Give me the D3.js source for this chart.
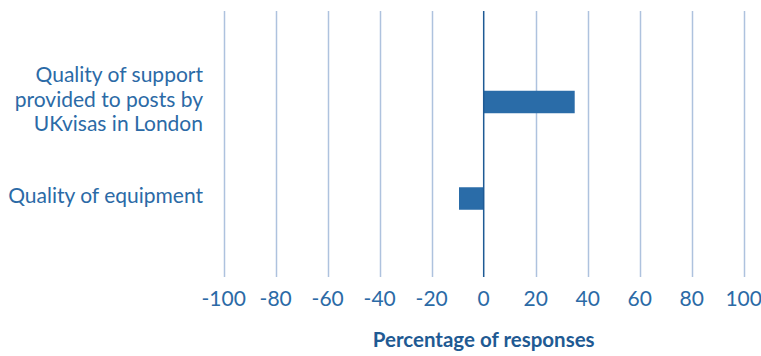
<!DOCTYPE html>
<html>
<head>
<meta charset="utf-8">
<script src="https://cdn.jsdelivr.net/npm/d3@7"></script>
<style>
  html, body { margin: 0; padding: 0; background: #fff; }
  svg { display: block; }
  text { font-family: Lato, "Open Sans", sans-serif; }
</style>
</head>
<body>
<svg id="chart" width="761" height="356"></svg>
<script>
// Survey items (top to bottom) and net percentage of responses
const categories = [
  ["Quality of support", "provided to posts by", "UKvisas in London"],
  ["Quality of equipment"]
];
const categoryKeys = ["support", "equipment"];
const values = [35, -9.5];
const tickValues = [-100, -80, -60, -40, -20, 0, 20, 40, 60, 80, 100];
const axisTitle = "Percentage of responses";

const svg = d3.select("#chart");
const textColor = "#2b6aa6";
const barColor = "#2a6ca8";
const gridColor = "#aec2de";
const zeroColor = "#1e5a94";

const x = d3.scaleLinear().domain([-100, 100]).range([223.7, 743.7]);
const y = d3.scaleBand()
  .domain(categoryKeys)
  .range([53.75, 246.75])
  .paddingInner(0.767)
  .paddingOuter(0.3835);

const gridTop = 11, gridBottom = 277;

// vertical gridlines
svg.append("g").selectAll("line")
  .data(tickValues.filter(v => v !== 0))
  .join("line")
  .attr("x1", d => Math.round(x(d)) + 0.5)
  .attr("x2", d => Math.round(x(d)) + 0.5)
  .attr("y1", gridTop)
  .attr("y2", gridBottom)
  .attr("stroke", gridColor)
  .attr("stroke-width", 1.5);

// bars
svg.append("g").selectAll("rect")
  .data(values)
  .join("rect")
  .attr("x", d => x(Math.min(0, d)))
  .attr("width", d => Math.abs(x(d) - x(0)))
  .attr("y", (d, i) => y(categoryKeys[i]))
  .attr("height", y.bandwidth())
  .attr("fill", barColor);

// zero line
svg.append("line")
  .attr("x1", x(0)).attr("x2", x(0))
  .attr("y1", gridTop).attr("y2", gridBottom)
  .attr("stroke", zeroColor)
  .attr("stroke-width", 1.5);

// tick labels
svg.append("g").selectAll("text")
  .data(tickValues)
  .join("text")
  .attr("x", d => x(d))
  .attr("y", 306)
  .attr("text-anchor", "middle")
  .attr("fill", textColor)
  .attr("font-size", 21)
  .text(d => d);

// category labels, right-aligned beside the plot
const lineH = 24.7;
const labelG = svg.append("g");
categories.forEach((lines, i) => {
  const cy = y(categoryKeys[i]) + y.bandwidth() / 2;
  const t = labelG.append("text")
    .attr("x", 203)
    .attr("text-anchor", "end")
    .attr("fill", textColor)
    .attr("font-size", 21);
  lines.forEach((ln, j) => {
    t.append("tspan")
      .attr("x", 203)
      .attr("y", cy + (j - (lines.length - 1) / 2) * lineH + 4.5)
      .text(ln);
  });
});

// axis title
svg.append("text")
  .attr("x", x(0))
  .attr("y", 347)
  .attr("text-anchor", "middle")
  .attr("fill", "#1f5a93")
  .attr("font-size", 20.5)
  .attr("font-weight", "bold")
  .text(axisTitle);
</script>
</body>
</html>
